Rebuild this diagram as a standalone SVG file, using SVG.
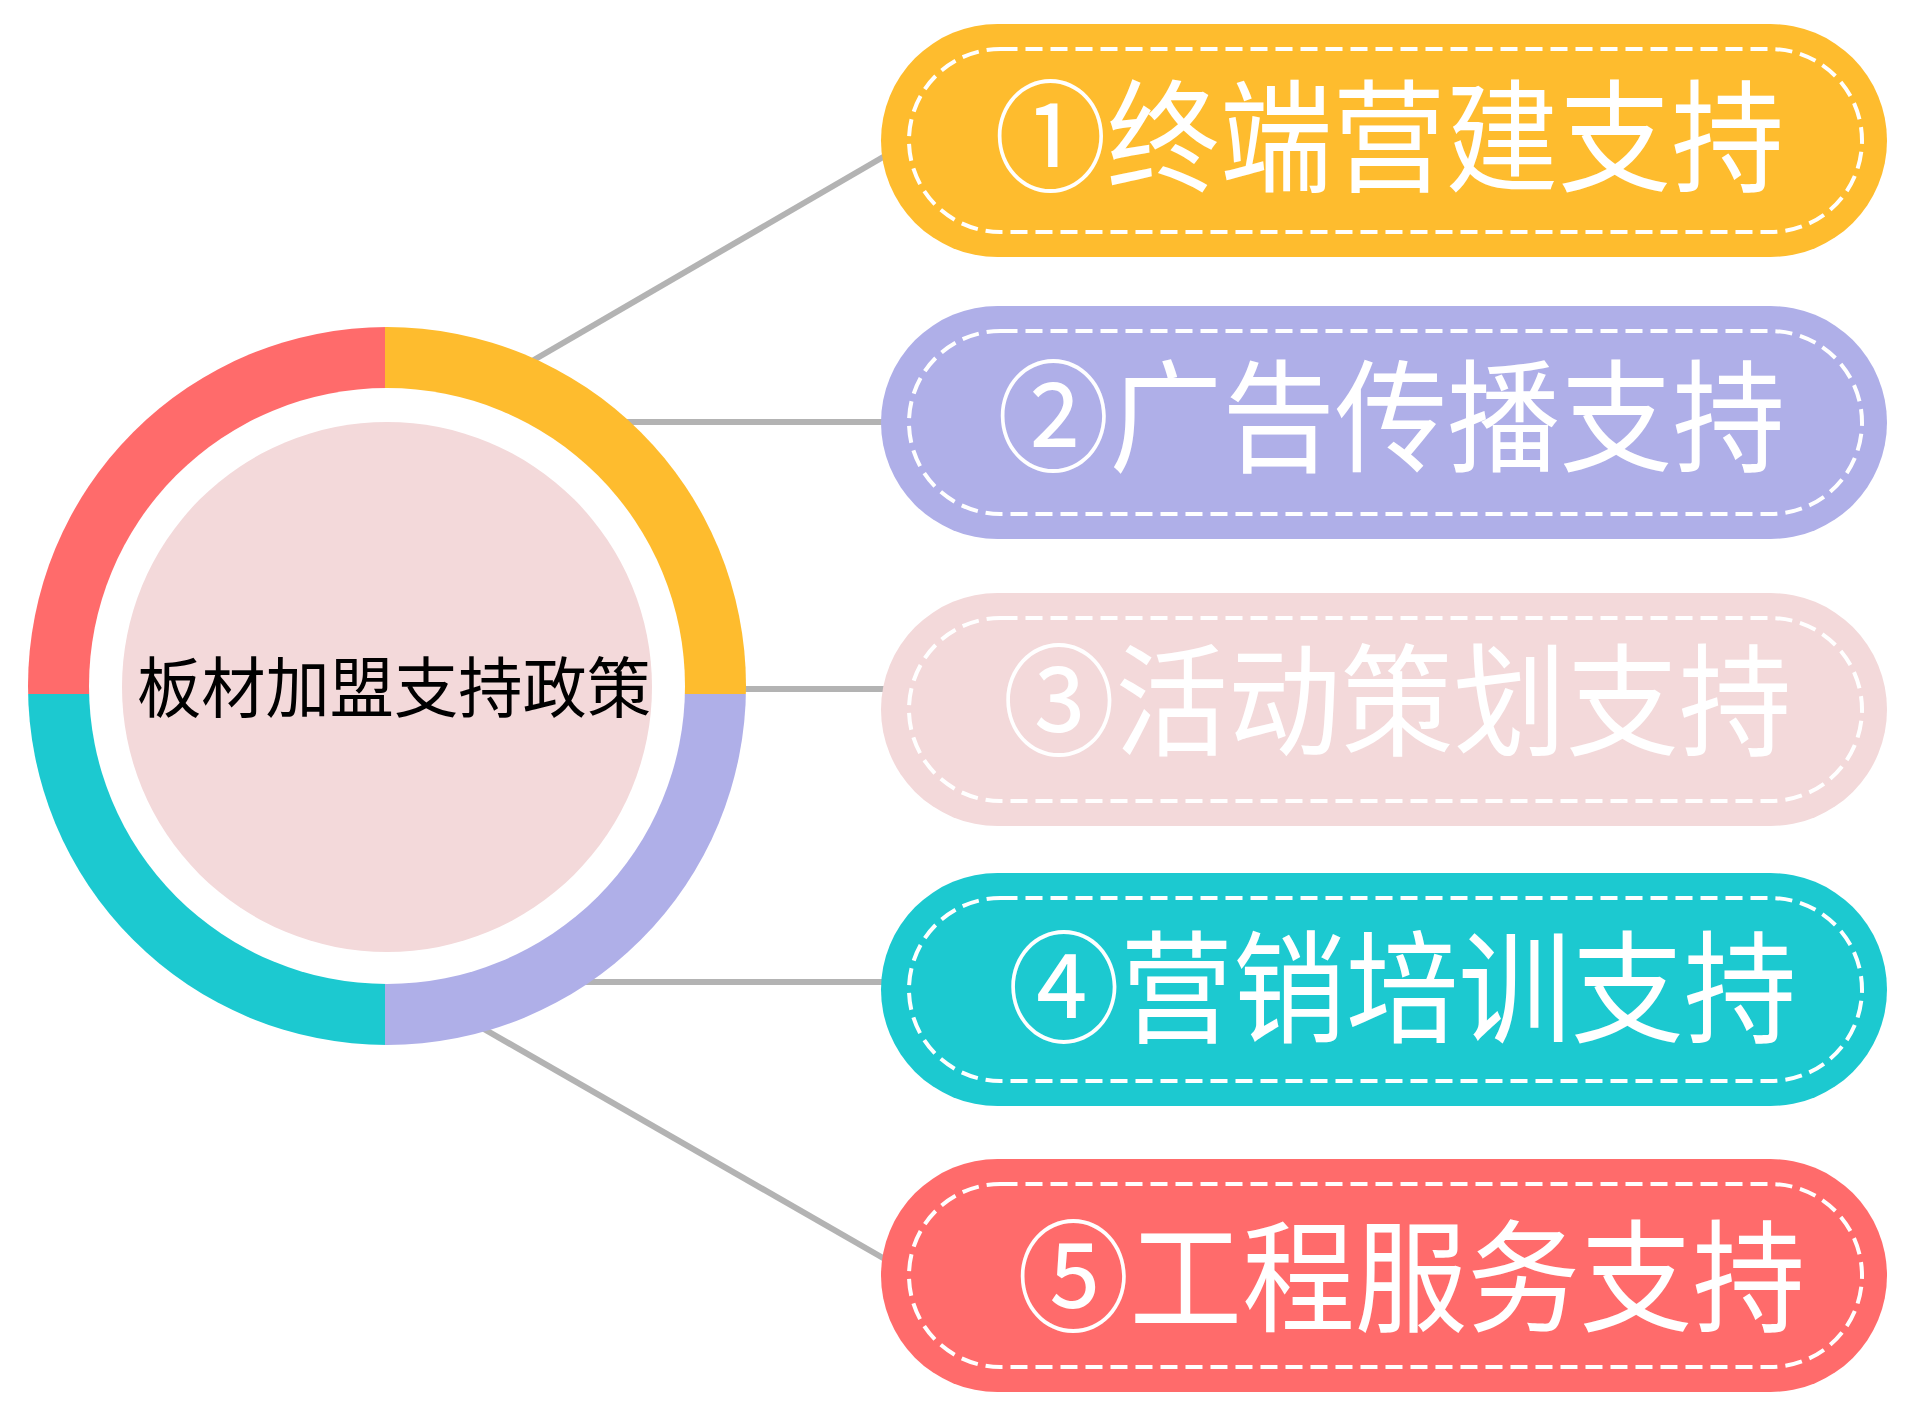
<svg xmlns="http://www.w3.org/2000/svg" width="1911" height="1421" viewBox="0 0 1911 1421">
  <style>
    .conn { stroke: #B3B3B3; stroke-width: 6; fill: none; }
    .dash { fill: none; stroke: #FFFFFF; stroke-width: 4; stroke-dasharray: 17 8; }
    .pt { font-family: "Noto Sans CJK SC", "Noto Sans", sans-serif; font-size: 122px; font-weight: 400; fill: #FFFFFF; text-anchor: middle; }
    .ct { font-family: "Noto Sans CJK SC", "Noto Sans", sans-serif; font-size: 66px; fill: #000000; text-anchor: middle; }
  </style>
  <defs>
    <clipPath id="ringClip">
      <circle cx="387" cy="686" r="359"/>
    </clipPath>
  </defs>
  <rect width="1911" height="1421" fill="#FFFFFF"/>

  <g id="connectors">
    <line class="conn" x1="520" y1="368" x2="890" y2="153"/>
    <line class="conn" x1="600" y1="422" x2="890" y2="422"/>
    <line class="conn" x1="720" y1="689" x2="890" y2="689"/>
    <line class="conn" x1="570" y1="982" x2="890" y2="982"/>
    <line class="conn" x1="470" y1="1021" x2="890" y2="1262"/>
  </g>

  <g id="center">
    <g clip-path="url(#ringClip)">
      <rect x="20" y="320" width="365" height="374" fill="#FF6B6B"/>
      <rect x="385" y="320" width="370" height="374" fill="#FEBC2E"/>
      <rect x="385" y="694" width="370" height="360" fill="#AFAFE8"/>
      <rect x="20" y="694" width="365" height="360" fill="#1CC9D0"/>
    </g>
    <circle cx="387" cy="686" r="298" fill="#FFFFFF"/>
    <circle cx="387" cy="687" r="265" fill="#F3D9DA"/>
    <text class="ct" x="394" y="712" textLength="514" lengthAdjust="spacingAndGlyphs">板材加盟支持政策</text>
  </g>

  <g id="node1">
    <rect x="881" y="24" width="1006" height="233" rx="116.5" fill="#FEBC2E"/>
    <rect class="dash" x="909" y="49" width="953" height="183" rx="91.5"/>
    <text class="pt" x="1389" y="182" textLength="790" lengthAdjust="spacingAndGlyphs">①终端营建支持</text>
  </g>
  <g id="node2">
    <rect x="881" y="306" width="1006" height="233" rx="116.5" fill="#AFAFE8"/>
    <rect class="dash" x="909" y="331" width="953" height="183" rx="91.5"/>
    <text class="pt" x="1391" y="462" textLength="788" lengthAdjust="spacingAndGlyphs">②广告传播支持</text>
  </g>
  <g id="node3">
    <rect x="881" y="593" width="1006" height="233" rx="116.5" fill="#F3D9DA"/>
    <rect class="dash" x="909" y="618" width="953" height="183" rx="91.5"/>
    <text class="pt" x="1397" y="746" textLength="789" lengthAdjust="spacingAndGlyphs">③活动策划支持</text>
  </g>
  <g id="node4">
    <rect x="881" y="873" width="1006" height="233" rx="116.5" fill="#1CC9D0"/>
    <rect class="dash" x="909" y="898" width="953" height="183" rx="91.5"/>
    <text class="pt" x="1402" y="1033" textLength="789" lengthAdjust="spacingAndGlyphs">④营销培训支持</text>
  </g>
  <g id="node5">
    <rect x="881" y="1159" width="1006" height="233" rx="116.5" fill="#FF6B6B"/>
    <rect class="dash" x="909" y="1184" width="953" height="183" rx="91.5"/>
    <text class="pt" x="1411" y="1322" textLength="788" lengthAdjust="spacingAndGlyphs">⑤工程服务支持</text>
  </g>
</svg>
